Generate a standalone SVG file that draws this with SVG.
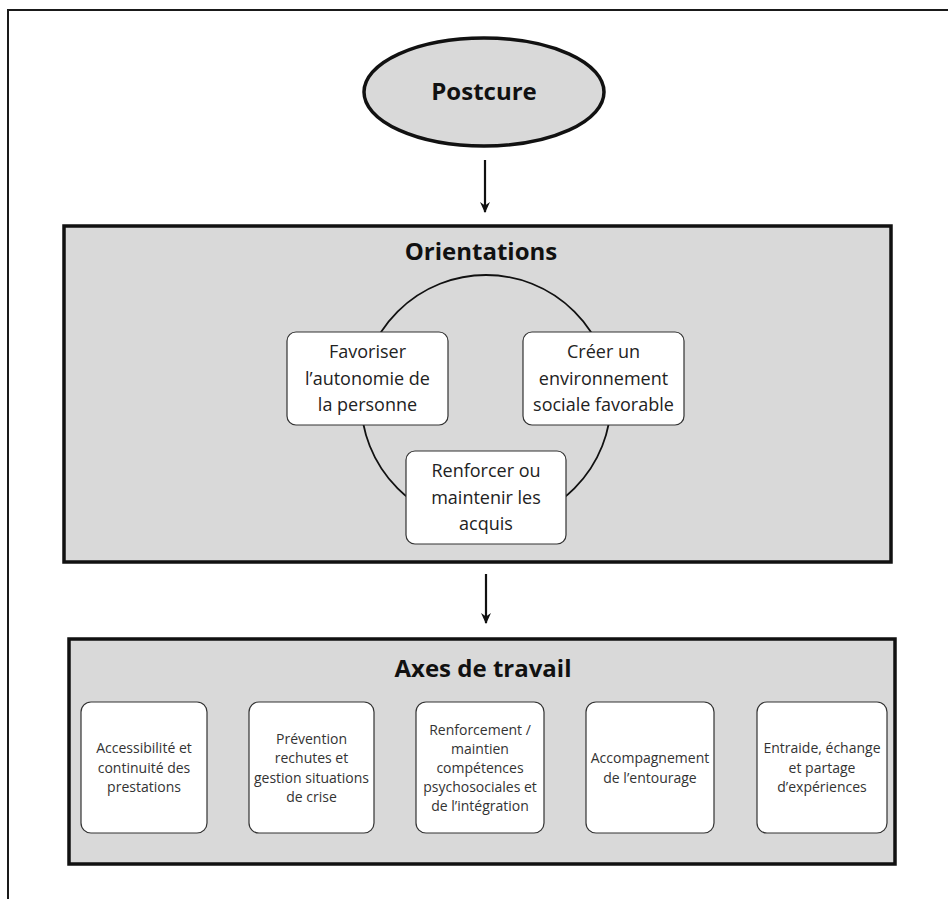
<svg xmlns="http://www.w3.org/2000/svg" width="948" height="899" viewBox="0 0 948 899">
<defs>
<style>
.frame{fill:none;stroke:#1a1a1a;stroke-width:2}
.big{fill:#d9d9d9;stroke:#111;stroke-width:3.5}
.card{fill:#fff;stroke:#333;stroke-width:1.2}
.ring{fill:none;stroke:#111;stroke-width:1.8}
.conn{stroke:#111;stroke-width:2.2;fill:none}
.title{font-family:"Open Sans","Liberation Sans",sans-serif;font-weight:bold;font-size:24px;fill:#111;text-anchor:middle}
.t18{font-family:"Open Sans","Liberation Sans",sans-serif;font-size:18px;fill:#222;text-anchor:middle}
.t14{font-family:"Open Sans","Liberation Sans",sans-serif;font-size:14px;fill:#333;text-anchor:middle}
</style>
<marker id="ah" viewBox="0 0 10 10" refX="9" refY="5" markerWidth="5" markerHeight="5" orient="auto" markerUnits="strokeWidth">
<path d="M0,0.5 L10,5 L0,9.5 L3,5 Z" fill="#111"/>
</marker>
</defs>
<rect width="948" height="899" fill="#fff"/>
<path class="frame" d="M8,899 V10 H948"/>

<g id="postcure">
<ellipse class="big" cx="484" cy="92" rx="120" ry="54" stroke-width="4"/>
<text class="title" x="484" y="100">Postcure</text>
</g>

<g id="orientations">
<rect class="big" x="64" y="226" width="827" height="336"/>
<text class="title" x="481" y="260">Orientations</text>
<circle class="ring" cx="486" cy="400" r="125"/>
</g>

<g id="o1">
<rect class="card" x="287" y="332" width="161" height="93" rx="9"/>
<text class="t18" x="367.5" y="358">Favoriser</text>
<text class="t18" x="367.5" y="385">l’autonomie de</text>
<text class="t18" x="367.5" y="411">la personne</text>
</g>
<g id="o2">
<rect class="card" x="523" y="332" width="161" height="93" rx="9"/>
<text class="t18" x="603.5" y="358">Créer un</text>
<text class="t18" x="603.5" y="385">environnement</text>
<text class="t18" x="603.5" y="411">sociale favorable</text>
</g>
<g id="o3">
<rect class="card" x="406" y="451" width="160" height="93" rx="9"/>
<text class="t18" x="486" y="477">Renforcer ou</text>
<text class="t18" x="486" y="504">maintenir les</text>
<text class="t18" x="486" y="530">acquis</text>
</g>

<g id="axes">
<rect class="big" x="69" y="639" width="826" height="225"/>
<text class="title" x="483" y="677">Axes de travail</text>
</g>

<g id="a1">
<rect class="card" x="81" y="702" width="126" height="131" rx="10"/>
<text class="t14" x="144" y="753">Accessibilité et</text>
<text class="t14" x="144" y="772.5">continuité des</text>
<text class="t14" x="144" y="792">prestations</text>
</g>
<g id="a2">
<rect class="card" x="249" y="702" width="125" height="131" rx="10"/>
<text class="t14" x="311.5" y="743.5">Prévention</text>
<text class="t14" x="311.5" y="763">rechutes et</text>
<text class="t14" x="311.5" y="782.5">gestion situations</text>
<text class="t14" x="311.5" y="802">de crise</text>
</g>
<g id="a3">
<rect class="card" x="416" y="702" width="128" height="131" rx="10"/>
<text class="t14" x="480" y="735">Renforcement /</text>
<text class="t14" x="480" y="754">maintien</text>
<text class="t14" x="480" y="773">compétences</text>
<text class="t14" x="480" y="792">psychosociales et</text>
<text class="t14" x="480" y="811">de l’intégration</text>
</g>
<g id="a4">
<rect class="card" x="586" y="702" width="128" height="131" rx="10"/>
<text class="t14" x="650" y="763">Accompagnement</text>
<text class="t14" x="650" y="782.5">de l’entourage</text>
</g>
<g id="a5">
<rect class="card" x="757" y="702" width="130" height="131" rx="10"/>
<text class="t14" x="822" y="753">Entraide, échange</text>
<text class="t14" x="822" y="772.5">et partage</text>
<text class="t14" x="822" y="792">d’expériences</text>
</g>

<g id="connectors">
<line class="conn" x1="485" y1="160" x2="485" y2="212" marker-end="url(#ah)"/>
<line class="conn" x1="486" y1="574" x2="486" y2="623" marker-end="url(#ah)"/>
</g>
</svg>
